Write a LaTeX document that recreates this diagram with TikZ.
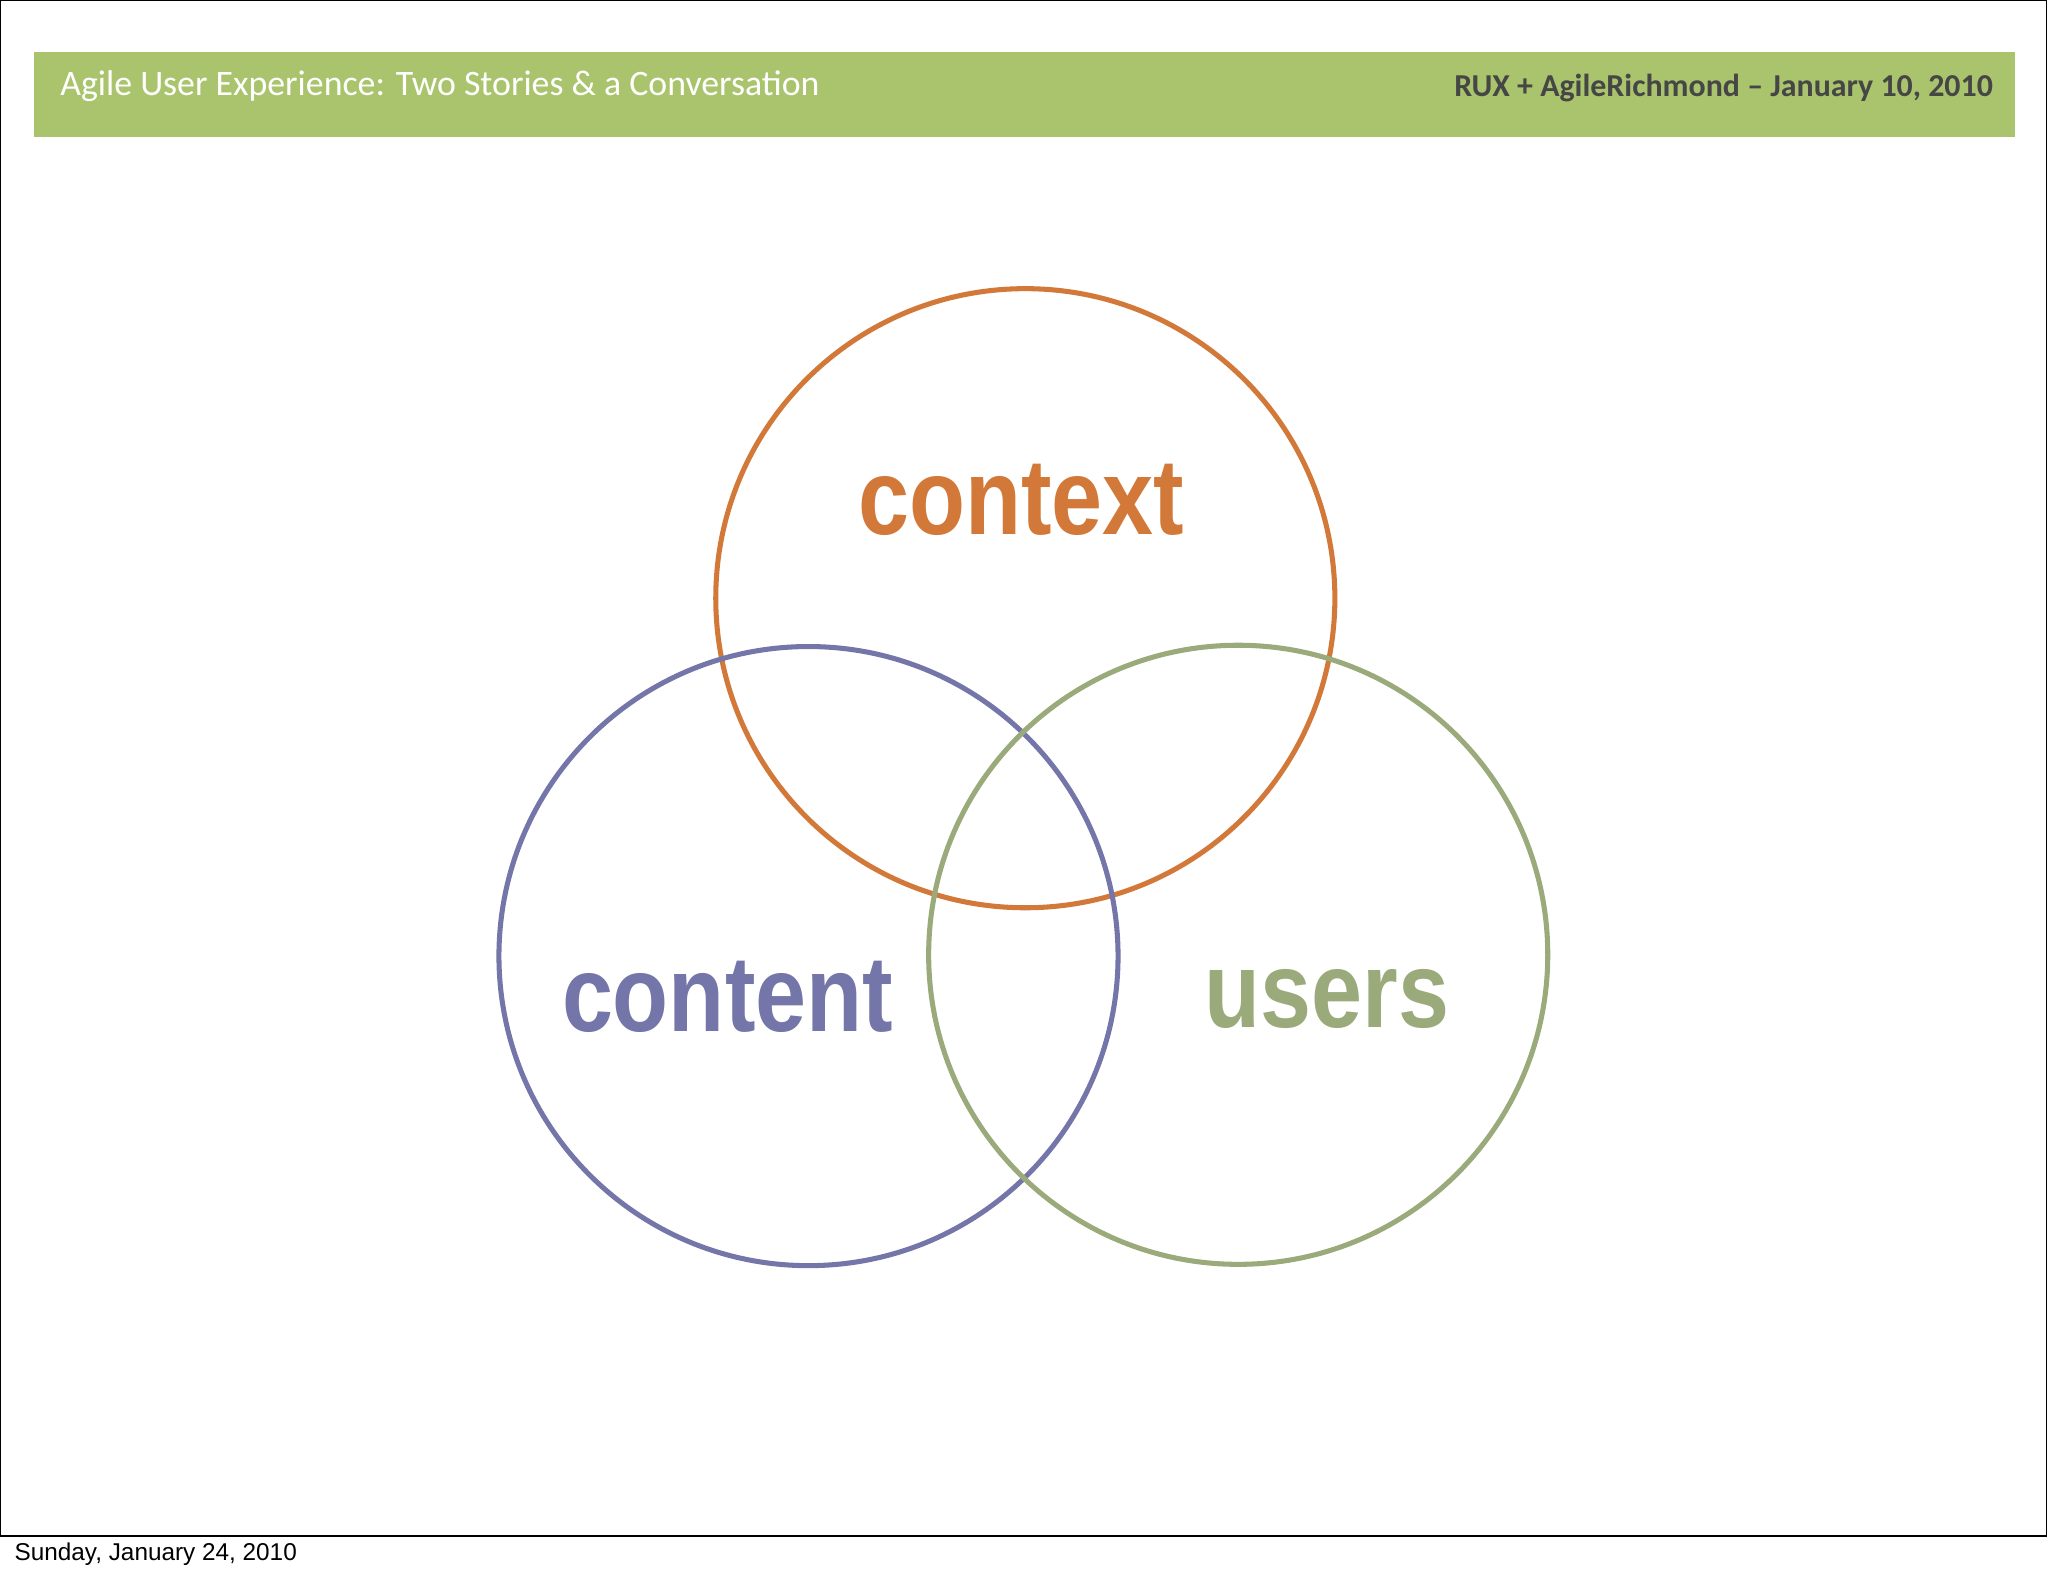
\documentclass[tikz,border=0pt]{standalone}
\usepackage{fontspec}
\setmainfont{Liberation Sans}
\newfontfamily\calib{Carlito}
\begin{document}
\begin{tikzpicture}[x=0.02cm,y=-0.02cm,
  ring/.style={line width=2.2pt},
  big/.style={font=\fontsize{47}{47}\selectfont\bfseries}]
\useasboundingbox (0,0) rectangle (1568,1207);
\fill[white] (0,0) rectangle (1568,1207);
\draw[line width=0.6pt] (0.5,0.5) rectangle (1567,1176);
\fill[fill={rgb,255:red,169;green,196;blue,108}] (26,40) rectangle (1543,105);
\node[anchor=west,text=white,font=\calib\fontsize{15.6}{15.6}\selectfont] (title) at (40,66) {Agile User Experience: Two Stories \& a Conversation};
\node[anchor=east,text={rgb,255:red,70;green,70;blue,70},font=\calib\bfseries\fontsize{13.9}{13.9}\selectfont] (rux) at (1532,67) {RUX + AgileRichmond – January 10, 2010};
\node[anchor=west,font=\fontsize{10.6}{10.6}\selectfont] (date) at (5,1190) {Sunday, January 24, 2010};
\draw[ring,draw={rgb,255:red,210;green,121;blue,58}] (785,458) circle (237);
\draw[ring,draw={rgb,255:red,116;green,117;blue,168}] (619,732) circle (237);
\draw[ring,draw={rgb,255:red,154;green,170;blue,122}] (948,731) circle (237);
\node[big,text={rgb,255:red,210;green,121;blue,58}] (ctx) at (782,383) {\scalebox{0.85}[1]{context}};
\node[big,text={rgb,255:red,116;green,117;blue,168}] (cnt) at (557,763) {\scalebox{0.85}[1]{content}};
\node[big,text={rgb,255:red,154;green,170;blue,122}] (usr) at (1016,765) {\scalebox{0.85}[1]{users}};
\end{tikzpicture}
\end{document}
